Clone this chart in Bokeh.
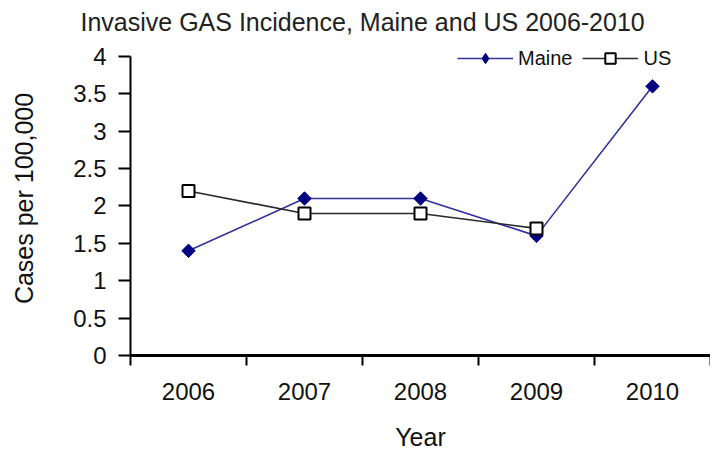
import math
from bokeh.plotting import figure
from bokeh.models import Range1d, FixedTicker, Legend, LegendItem
from bokeh.embed import file_html
from bokeh.resources import INLINE

years = [2006, 2007, 2008, 2009, 2010]
year_labels = ["2006", "2007", "2008", "2009", "2010"]
maine = [1.4, 2.1, 2.1, 1.6, 3.6]
us = [2.2, 1.9, 1.9, 1.7]
y_ticks = [0, 0.5, 1, 1.5, 2, 2.5, 3, 3.5, 4]
y_labels = ["0", "0.5", "1", "1.5", "2", "2.5", "3", "3.5", "4"]

FONT = "Liberation Sans"

p = figure(width=710, height=453, output_backend="svg", toolbar_location=None,
           x_range=Range1d(years[0] - 0.5, years[-1] + 0.5),
           y_range=Range1d(y_ticks[0], y_ticks[-1] + 0.2),
           min_border_left=130, min_border_right=0, min_border_top=40,
           min_border_bottom=96,
           title="Invasive GAS Incidence, Maine and US 2006-2010")

p.title.text_font = FONT
p.title.text_font_size = "25px"
p.title.text_font_style = "normal"
p.title.text_color = "#222222"
p.title.align = "left"
p.title.offset = -50
p.title.standoff = 11

p.outline_line_color = None
p.xgrid.grid_line_color = None
p.ygrid.grid_line_color = None
p.background_fill_color = "white"
p.border_fill_color = "white"

# x axis: labels at category centres, ticks between categories
xa = p.xaxis[0]
xa.ticker = FixedTicker(ticks=years, minor_ticks=[y - 0.5 for y in years] + [years[-1] + 0.5])
xa.major_label_overrides = {y: l for y, l in zip(years, year_labels)}
xa.major_tick_line_color = None
xa.minor_tick_line_color = "black"
xa.minor_tick_line_width = 2
xa.minor_tick_out = 10
xa.minor_tick_in = 0
xa.axis_line_color = "black"
xa.axis_line_width = 3
xa.major_label_text_font = FONT
xa.major_label_text_font_size = "24px"
xa.major_label_text_color = "#111111"
xa.major_label_standoff = 17
xa.axis_label = "Year"
xa.axis_label_text_font = FONT
xa.axis_label_text_font_size = "25px"
xa.axis_label_text_font_style = "normal"
xa.axis_label_text_color = "#111111"
xa.axis_label_standoff = 20

ya = p.yaxis[0]
ya.ticker = FixedTicker(ticks=y_ticks)
ya.bounds = (y_ticks[0], y_ticks[-1])
ya.major_label_overrides = {t: l for t, l in zip(y_ticks, y_labels)}
ya.minor_tick_line_color = None
ya.major_tick_line_color = "black"
ya.major_tick_line_width = 2
ya.major_tick_out = 12
ya.major_tick_in = 0
ya.axis_line_color = "black"
ya.axis_line_width = 2
ya.major_label_text_font = FONT
ya.major_label_text_font_size = "24px"
ya.major_label_text_color = "#111111"
ya.major_label_standoff = 12
ya.axis_label = "Cases per 100,000"
ya.axis_label_text_font = FONT
ya.axis_label_text_font_size = "25px"
ya.axis_label_text_font_style = "normal"
ya.axis_label_text_color = "#111111"
ya.axis_label_standoff = 32

m_line = p.line(years, maine, line_color="#33339a", line_width=1.6)
# diamond used for the legend swatch, hidden beneath the rotated-square markers
m_leg = p.scatter(years, maine, marker="diamond", size=11,
                  fill_color="#000080", line_color="#000080", line_width=1)
m_pts = p.scatter(years, maine, marker="square", angle=math.pi / 4, size=9.5,
                  fill_color="#000080", line_color="#000080", line_width=1)

us_x = years[:len(us)]
u_line = p.line(us_x, us, line_color="#2a2a2a", line_width=1.6)
u_pts = p.scatter(us_x, us, marker="square", size=12, fill_color="white",
                  line_color="black", line_width=2)

legend = Legend(items=[LegendItem(label="Maine", renderers=[m_line, m_leg]),
                       LegendItem(label="US", renderers=[u_line, u_pts])],
                orientation="horizontal", location=(327, 284),
                padding=0, margin=0, spacing=10, label_standoff=5,
                glyph_width=56, glyph_height=26, label_height=20,
                background_fill_alpha=0, border_line_color=None,
                label_text_font=FONT, label_text_font_size="20px",
                label_text_color="#111111")
p.add_layout(legend, "center")

open("out.html", "w").write(file_html(p, INLINE))
